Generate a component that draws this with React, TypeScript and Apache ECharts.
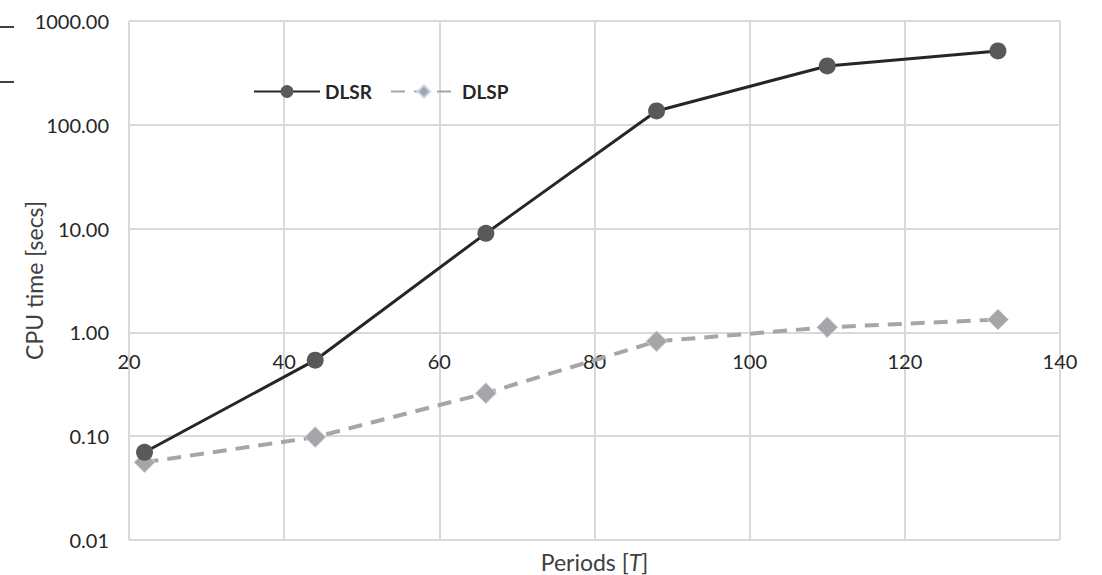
import React, { useEffect, useRef } from "react";
import * as echarts from "echarts";

const periods = [22, 44, 66, 88, 110, 132];
const dlsr = [0.07, 0.54, 9.0, 136, 369, 515];
const dlsp = [0.056, 0.098, 0.26, 0.82, 1.12, 1.33];
const xTicks = [20, 40, 60, 80, 100, 120, 140];
const yTicks = [0.01, 0.1, 1, 10, 100, 1000];

const FONT = "Lato, 'Open Sans', sans-serif";

export default function App() {
  const ref = useRef<HTMLDivElement>(null);
  useEffect(() => {
    if (!ref.current) return;
    const chart = echarts.init(ref.current, null, { renderer: "svg" });
    const gridTop = 21;
    const gridBottom = 35;
    const gridH = 575 - gridTop - gridBottom;
    const decades = Math.log10(yTicks[yTicks.length - 1]) - Math.log10(yTicks[0]);
    const oneOffset = (gridH * (Math.log10(1) - Math.log10(yTicks[0]))) / decades;
    chart.setOption({
      animation: false,
      backgroundColor: "#ffffff",
      textStyle: { fontFamily: FONT },
      grid: { left: 129, right: 42, top: gridTop, bottom: gridBottom, outerBoundsMode: "none", containLabel: false },
      legend: {
        left: 248,
        top: 77,
        itemWidth: 66,
        itemHeight: 16,
        itemGap: 18,
        textStyle: { fontFamily: FONT, fontSize: 19, fontWeight: "bold", color: "#262626" },
        data: ["DLSR", "DLSP"],
      },
      xAxis: [
        {
          type: "value",
          min: xTicks[0],
          max: xTicks[xTicks.length - 1],
          interval: 20,
          position: "bottom",
          offset: -oneOffset,
          axisLine: { show: false },
          axisTick: { show: false },
          axisLabel: { margin: 19, fontSize: 20, color: "#262626", fontFamily: FONT },
          splitLine: { show: true, lineStyle: { color: "#d9d9d9", width: 2 } },
        },
        {
          type: "value",
          min: xTicks[0],
          max: xTicks[xTicks.length - 1],
          position: "bottom",
          axisLine: { show: false },
          axisTick: { show: false },
          axisLabel: { show: false },
          splitLine: { show: false },
          name: "{n|Periods [}{i|T}{n|]}",
          nameLocation: "middle",
          nameGap: 10,
          nameTextStyle: {
            verticalAlign: "top",
            rich: {
              n: { fontFamily: FONT, fontSize: 23, color: "#404040" },
              i: { fontFamily: FONT, fontSize: 23, color: "#404040", fontStyle: "italic" },
            },
          },
        },
      ],
      yAxis: {
        type: "log",
        logBase: 10,
        min: yTicks[0],
        max: yTicks[yTicks.length - 1],
        axisLine: { show: false },
        axisTick: { show: false },
        axisLabel: {
          margin: 20,
          fontSize: 20,
          color: "#262626",
          fontFamily: FONT,
          formatter: (v: number) => Number(v).toFixed(2),
        },
        splitLine: { show: true, lineStyle: { color: "#d9d9d9", width: 2 } },
        name: "CPU time [secs]",
        nameLocation: "middle",
        nameGap: 84,
        nameMoveOverlap: false,
        nameTextStyle: { fontFamily: FONT, fontSize: 23, color: "#404040" },
      },
      series: [
        {
          name: "DLSR",
          type: "line",
          xAxisIndex: 0,
          data: periods.map((p, i) => [p, dlsr[i]]),
          symbol: "circle",
          symbolSize: 17,
          lineStyle: { color: "#262626", width: 3 },
          itemStyle: { color: "#595959" },
          z: 3,
        },
        {
          name: "DLSP",
          type: "line",
          xAxisIndex: 0,
          data: periods.map((p, i) => [p, dlsp[i]]),
          symbol: "diamond",
          symbolSize: 21,
          lineStyle: { color: "#a6a6a6", width: 4, type: [14, 9] },
          itemStyle: { color: "#a6a6a6", borderColor: "#c9dcef", borderWidth: 1 },
          z: 2,
        },
      ],
      graphic: [
        { type: "line", shape: { x1: 0, y1: 27, x2: 14, y2: 27 }, style: { stroke: "#000", lineWidth: 1.5 } },
        { type: "line", shape: { x1: 0, y1: 82, x2: 14, y2: 82 }, style: { stroke: "#000", lineWidth: 1.5 } },
      ],
    });
    return () => chart.dispose();
  }, []);
  return (
    <div
      ref={ref}
      style={{ position: "absolute", left: 0, top: 0, width: 1102, height: 575 }}
    />
  );
}
